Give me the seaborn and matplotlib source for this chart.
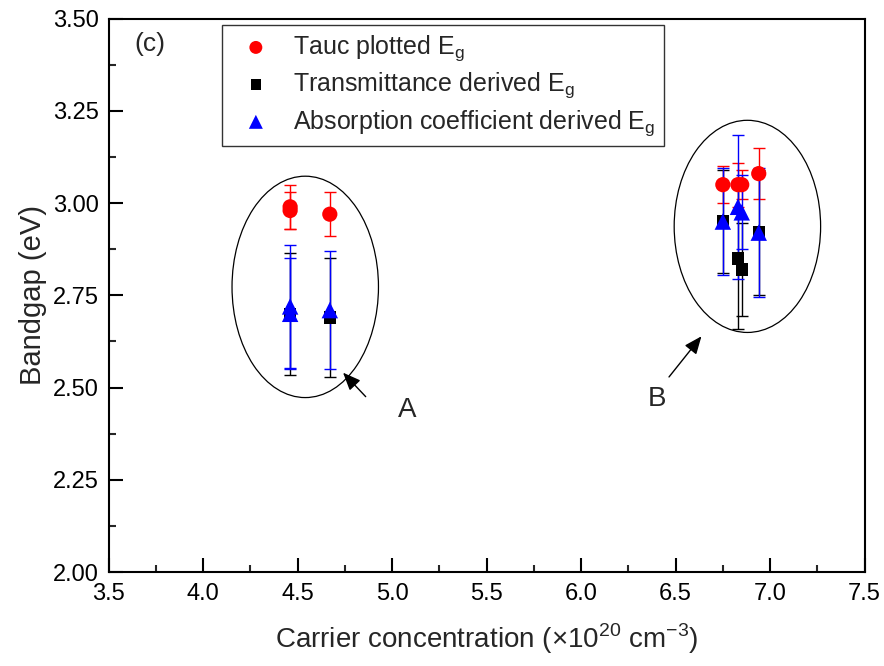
import seaborn as sns
import matplotlib.pyplot as plt
import pandas as pd
from matplotlib.patches import Ellipse
from matplotlib.ticker import MultipleLocator

# Tauc plotted Eg
tauc_x = [4.46, 4.46, 4.67, 6.75, 6.83, 6.85, 6.94]
tauc_y = [2.99, 2.98, 2.97, 3.05, 3.05, 3.05, 3.08]
tauc_err = [0.06, 0.05, 0.06, 0.05, 0.06, 0.04, 0.07]

# Transmittance derived Eg
trans_x = [4.46, 4.67, 6.75, 6.83, 6.85, 6.94]
trans_y = [2.70, 2.69, 2.95, 2.85, 2.82, 2.92]
trans_err = [0.165, 0.16, 0.14, 0.19, 0.125, 0.17]

# Absorption coefficient derived Eg
abs_x = [4.46, 4.46, 4.67, 6.75, 6.83, 6.85, 6.94]
abs_y = [2.72, 2.70, 2.71, 2.95, 2.99, 2.975, 2.92]
abs_err = [0.167, 0.15, 0.16, 0.145, 0.195, 0.10, 0.175]

labels = ['Tauc plotted E$_\\mathregular{g}$',
          'Transmittance derived E$_\\mathregular{g}$',
          'Absorption coefficient derived E$_\\mathregular{g}$']

sns.set_style("ticks")
plt.rcParams['font.family'] = ['Liberation Sans', 'DejaVu Sans']
plt.rcParams['mathtext.fontset'] = 'custom'
plt.rcParams['mathtext.rm'] = 'Liberation Sans'

df = pd.concat([
    pd.DataFrame({'x': tauc_x, 'y': tauc_y, 'err': tauc_err, 'type': labels[0]}),
    pd.DataFrame({'x': trans_x, 'y': trans_y, 'err': trans_err, 'type': labels[1]}),
    pd.DataFrame({'x': abs_x, 'y': abs_y, 'err': abs_err, 'type': labels[2]}),
])
colors = {labels[0]: '#ff0000', labels[1]: '#000000', labels[2]: '#0000ff'}
markers = {labels[0]: 'o', labels[1]: 's', labels[2]: '^'}
sizes = {labels[0]: 120, labels[1]: 80, labels[2]: 140}

fig = plt.figure(figsize=(8.84, 6.66), dpi=100)
ax = fig.add_axes([0.123, 0.141, 0.855, 0.831])

# error bars first, drawn black -> red -> blue
for lab in [labels[1], labels[0], labels[2]]:
    sub = df[df['type'] == lab]
    ax.errorbar(sub['x'], sub['y'], yerr=sub['err'], fmt='none',
                ecolor=colors[lab], elinewidth=1, capsize=4.5, capthick=1, zorder=2)

for lab in [labels[1], labels[0], labels[2]]:
    sub = df[df['type'] == lab]
    sns.scatterplot(data=sub, x='x', y='y', color=colors[lab], marker=markers[lab],
                    s=sizes[lab], edgecolor='none', linewidth=0, ax=ax, zorder=3,
                    label=lab)

# ellipses around the two groups
ax.add_patch(Ellipse((4.54, 2.773), 0.775, 0.60, fill=False, ec='black', lw=0.9, zorder=1))
ax.add_patch(Ellipse((6.88, 2.937), 0.775, 0.575, fill=False, ec='black', lw=0.9, zorder=1))

ax.annotate('', xy=(4.73, 2.546), xytext=(4.87, 2.47),
            arrowprops=dict(arrowstyle='-|>,head_length=0.6,head_width=0.25',
                            color='black', lw=1, mutation_scale=18))
ax.annotate('', xy=(6.646, 2.645), xytext=(6.456, 2.523),
            arrowprops=dict(arrowstyle='-|>,head_length=0.6,head_width=0.25',
                            color='black', lw=1, mutation_scale=18))
ax.text(5.08, 2.44, 'A', fontsize=20, ha='center', va='center')
ax.text(6.40, 2.47, 'B', fontsize=20, ha='center', va='center')
ax.text(3.72, 3.43, '(c)', fontsize=19, ha='center', va='center')

ax.set_xlim(3.5, 7.5)
ax.set_ylim(2.0, 3.5)
ax.xaxis.set_major_locator(MultipleLocator(0.5))
ax.xaxis.set_minor_locator(MultipleLocator(0.25))
ax.yaxis.set_major_locator(MultipleLocator(0.25))
ax.yaxis.set_minor_locator(MultipleLocator(0.125))
ax.xaxis.set_major_formatter(plt.FormatStrFormatter('%.1f'))
ax.yaxis.set_major_formatter(plt.FormatStrFormatter('%.2f'))
ax.tick_params(which='major', direction='in', length=10, width=1.5, labelsize=17, colors='black')
ax.tick_params(which='minor', direction='in', length=5, width=1.5)
ax.tick_params(axis='x', pad=8)
ax.tick_params(axis='y', pad=7)
for s in ax.spines.values():
    s.set_linewidth(1.5)
    s.set_color('black')

ax.set_xlabel('Carrier concentration (×10$^\\mathregular{20}$ cm$^\\mathregular{-3}$)',
              fontsize=20, labelpad=12)
ax.set_ylabel('Bandgap (eV)', fontsize=21, labelpad=4)

handles, labs = ax.get_legend_handles_labels()
order = [labs.index(l) for l in labels]
leg = ax.legend([handles[i] for i in order], [labs[i] for i in order],
                loc='upper left', bbox_to_anchor=(0.150, 0.989), borderaxespad=0,
                fontsize=18, frameon=True, fancybox=False, edgecolor='black',
                handletextpad=0.5, labelspacing=0.3, borderpad=0.35, markerscale=0.85)
leg.get_frame().set_linewidth(1)

plt.savefig('out.png', dpi=100)
